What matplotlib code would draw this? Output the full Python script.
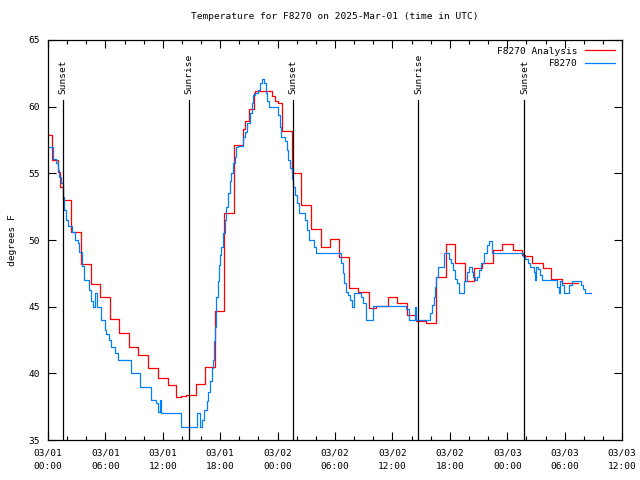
import matplotlib
matplotlib.use('Agg')
from matplotlib import pyplot as plt
import matplotlib.dates as mdates
import numpy as np
import datetime as dt

start = dt.datetime(2025, 3, 1, 0, 0)

# F8270 Analysis (hours since start, deg F)
ana_h = [0, 0.45, 1.0, 1.3, 1.6, 2.45, 3.5, 4.5, 5.45, 6.5, 7.45, 8.5, 9.45, 10.5,
         11.45, 12.5, 13.4, 13.95, 14.4, 15.5, 16.4, 17.45, 18.4, 19.45, 20.4, 20.6,
         21.0, 21.5, 21.6, 23.4, 23.7, 24.0, 24.5, 25.45, 26.45, 27.5, 28.5, 29.45,
         30.45, 31.5, 32.35, 33.5, 34.3, 35.5, 36.5, 37.5, 38.5, 39.5, 40.5, 41.55,
         42.55, 43.55, 44.5, 45.4, 46.55, 47.5, 48.55, 49.55, 49.9, 50.55, 51.7,
         52.6, 53.7, 55.4]
ana_t = [57.9, 56.0, 55.1, 54.0, 53.0, 50.6, 48.2, 46.7, 45.7, 44.05, 43.0, 42.0, 41.35, 40.4,
         39.65, 39.1, 38.2, 38.3, 38.4, 39.2, 40.5, 44.7, 52.0, 57.1, 58.3, 58.9,
         59.8, 61.0, 61.2, 60.8, 60.45, 60.25, 58.2, 55.0, 52.6, 50.8, 49.45, 50.05,
         48.7, 46.4, 46.1, 44.9, 45.05, 45.7, 45.25, 44.4, 43.9, 43.8, 47.2, 49.7,
         48.3, 46.9, 47.9, 48.25, 49.25, 49.7, 49.25, 48.9, 48.8, 48.3, 47.9,
         47.05, 46.8, 46.8]

# F8270 observations
obs_h = [0.0, 0.05, 0.5, 0.8, 1.0, 1.2, 1.4, 1.55, 1.7, 1.9, 2.1, 2.5, 2.8, 3.1, 3.25,
         3.6, 3.75, 4.25, 4.5, 4.75, 4.95, 5.1, 5.5, 5.95, 6.1, 6.35, 6.55, 7.05, 7.3,
         8.65, 9.65, 10.75, 11.3, 11.5, 11.7, 11.85, 13.85, 15.6, 15.9, 16.1, 16.35,
         16.6, 16.75, 16.9, 17.1, 17.25, 17.35, 17.5, 17.6, 17.75, 17.9, 18.0, 18.1,
         18.3, 18.5, 18.65, 18.8, 19.0, 19.15, 19.35, 19.5, 19.7, 19.85, 20.4, 20.55,
         20.85, 21.1, 21.3, 21.45, 21.6, 22.0, 22.2, 22.4, 22.6, 22.75, 22.9, 23.1,
         24.0, 24.2, 24.4, 24.75, 24.95, 25.1, 25.3, 25.5, 25.65, 25.8, 26.0, 26.2,
         26.9, 27.05, 27.3, 27.8, 28.0, 30.6, 30.8, 30.95, 31.15, 31.4, 31.6, 31.8,
         31.95, 32.75, 32.95, 33.2, 33.95, 37.4, 37.7, 38.4, 38.5, 39.95, 40.1, 40.3,
         40.45, 40.6, 40.8, 41.4, 41.95, 42.1, 42.3, 42.5, 42.75, 43.0, 43.5, 43.8,
         44.05, 44.3, 44.45, 44.65, 44.85, 45.05, 45.3, 45.6, 45.9, 46.1, 46.45, 49.6,
         49.9, 50.15, 50.35, 50.75, 50.85, 51.05, 51.2, 51.4, 51.6, 53.2, 53.4, 53.55,
         53.75, 53.9, 54.5, 54.75, 55.7, 55.9, 56.1, 56.7]
obs_t = [56.4, 57.0, 56.05, 55.75, 55.25, 54.75, 54.25, 53.25, 52.25, 51.5, 51.05, 50.6, 50.0, 49.75, 49.1,
         48.05, 47.0, 46.25, 45.4, 45.0, 46.0, 45.0, 44.0, 43.25, 42.95, 42.5, 42.0, 41.5, 41.0,
         40.0, 39.0, 38.0, 37.75, 37.1, 38.0, 37.05, 36.0, 37.0, 36.0, 36.5, 37.25,
         37.9, 38.6, 39.4, 40.4, 41.0, 42.4, 43.5, 45.75, 46.9, 48.1, 48.9, 49.5,
         50.5, 51.5, 52.5, 53.5, 54.4, 55.0, 55.75, 56.25, 56.95, 57.05, 57.75, 58.1,
         58.75, 59.5, 60.25, 60.9, 61.0, 61.25, 61.75, 62.05, 61.75, 61.0, 60.4, 60.0,
         59.4, 58.5, 57.75, 57.4, 56.75, 56.0, 55.4, 54.6, 54.0, 53.4, 52.75, 52.05,
         51.5, 50.75, 50.0, 49.5, 49.0, 48.25, 47.5, 46.75, 46.1, 45.9, 45.5, 45.0,
         46.0, 45.75, 45.25, 44.0, 45.05, 44.8, 44.0, 45.0, 44.0, 44.5, 45.1, 45.75,
         46.5, 47.25, 48.0, 49.0, 48.6, 48.25, 47.75, 47.1, 46.75, 46.05, 46.9, 47.6,
         48.0, 47.6, 47.25, 47.0, 47.25, 47.75, 48.25, 49.0, 49.6, 49.95, 49.0, 48.8,
         48.6, 48.25, 48.0, 47.6, 47.0, 48.0, 47.8, 47.4, 47.0, 46.5, 46.05, 46.9,
         46.6, 46.05, 46.6, 46.95, 46.6, 46.3, 46.05, 46.05]

sun_h = [1.6, 14.77, 25.64, 38.71, 49.79]
sun_names = ['Sunset', 'Sunrise', 'Sunset', 'Sunrise', 'Sunset']

def to_dt(hours):
    return [start + dt.timedelta(hours=h) for h in hours]

plt.rcParams['font.family'] = ['DejaVu Sans Mono']
fs = 6.8

fig = plt.figure(figsize=(6.4, 4.8), dpi=100)
ax = fig.add_axes([0.075, 0.0833, 0.897, 0.8334])

ax.plot(to_dt(ana_h), ana_t, color='#ff0000', lw=0.9, drawstyle='steps-post', label='F8270 Analysis')
ax.plot(to_dt(obs_h), obs_t, color='#0080ff', lw=0.9, drawstyle='steps-post', label='F8270')

for h, name in zip(sun_h, sun_names):
    t = start + dt.timedelta(hours=h)
    ax.axvline(t, ymin=0, ymax=0.85, color='black', lw=0.9)
    ax.text(t, 0.865, name, transform=ax.get_xaxis_transform(), rotation=90,
            ha='center', va='bottom', fontsize=fs)

ax.set_xlim(start, start + dt.timedelta(hours=60))
ax.set_ylim(35, 65)
ax.set_yticks(np.arange(35, 66, 5))
ax.xaxis.set_major_locator(mdates.HourLocator(byhour=range(0, 24, 6)))
ax.xaxis.set_minor_locator(mdates.HourLocator(byhour=range(0, 24, 2)))
ax.xaxis.set_major_formatter(mdates.DateFormatter('%m/%d\n%H:%M'))
ax.tick_params(which='both', direction='in', top=True, right=True, labelsize=fs, width=0.8)
ax.tick_params(which='major', length=6, pad=6)
ax.tick_params(which='minor', length=3)
for s in ax.spines.values():
    s.set_linewidth(0.9)

ax.set_ylabel('degrees F', fontsize=fs, labelpad=8)
ax.set_title('Temperature for F8270 on 2025-Mar-01 (time in UTC)', fontsize=fs, pad=15)
ax.legend(loc='upper right', frameon=False, markerfirst=False, fontsize=fs,
          handlelength=3.2, handletextpad=0.8, borderaxespad=0.3, labelspacing=0.35)

fig.canvas.draw()
for lab in ax.get_xticklabels():
    lab.set_linespacing(1.6)

fig.savefig('out.png', dpi=100)
